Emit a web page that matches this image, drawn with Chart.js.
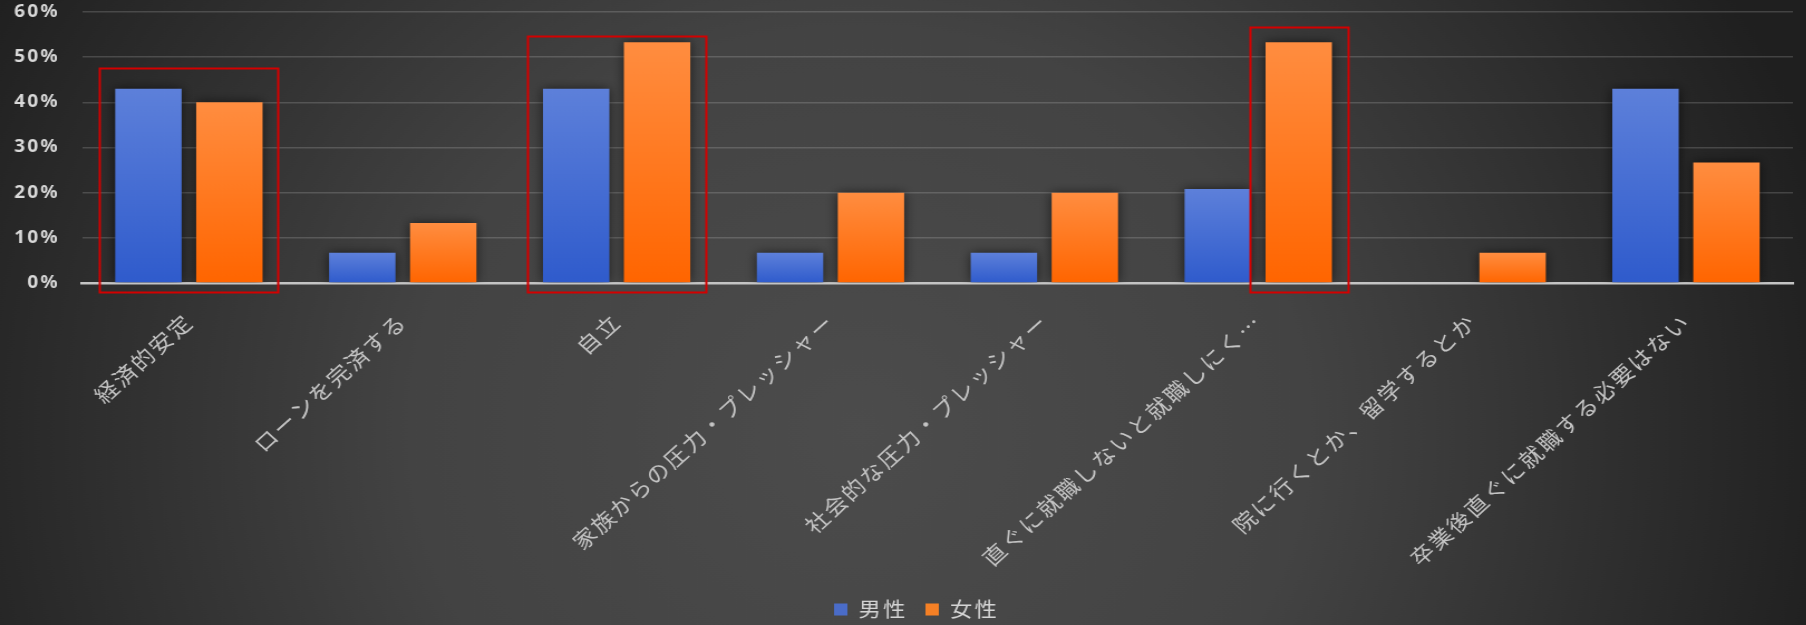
<!DOCTYPE html>
<html>
<head>
<meta charset="utf-8">
<script src="https://cdn.jsdelivr.net/npm/chart.js@4.4.1/dist/chart.umd.min.js"></script>
<style>
  html, body { margin: 0; padding: 0; background: #2a2a2a; overflow: hidden; }
  #wrap { width: 1620px; height: 625px; transform: scaleX(1.115); transform-origin: 0 0; }
</style>
</head>
<body>
<div id="wrap"><canvas id="c" width="1620" height="625"></canvas></div>
<script>
// ---- data ----
const categories = [
  '経済的安定',
  'ローンを完済する',
  '自立',
  '家族からの圧力・プレッシャー',
  '社会的な圧力・プレッシャー',
  '直ぐに就職しないと就職しにく…',
  '院に行くとか、留学するとか',
  '卒業後直ぐに就職する必要はない'
];
const seriesNames = ['男性', '女性'];
const maleValues   = [43, 6.7, 43, 6.7, 6.7, 20.8, 0, 43];
const femaleValues = [40, 13.3, 53.3, 20, 20, 53.3, 6.7, 26.7];
const yTickValues  = [0, 10, 20, 30, 40, 50, 60];

// highlighted groups (category index, datasets inside the box, top value of the box)
const highlightIndex    = [0, 2, 5];
const highlightDatasets = [[0, 1], [0, 1], [1]];
const highlightTop      = [47.6, 54.6, 56.6];

// ---- styling ----
const FONT = "'Noto Sans CJK JP', 'Noto Sans', sans-serif";
const blueTop = '#5d80da', blueBottom = '#2f5bcc', blueLegend = '#4a6cc8';
const orangeTop = '#ff8d40', orangeBottom = '#ff6500', orangeLegend = '#f58025';
const PLOT_BOTTOM = 283;
const BOTTOM_PAD = -4.5;
const SPACING = '2px';

function barGradient(topC, bottomC) {
  return (c) => {
    const chart = c.chart;
    if (!chart.chartArea || c.raw == null) return bottomC;
    const y = chart.scales.y;
    const yTop = y.getPixelForValue(c.raw);
    const yBot = y.getPixelForValue(0);
    if (Math.abs(yBot - yTop) < 1) return bottomC;
    const g = chart.ctx.createLinearGradient(0, yTop, 0, yBot);
    g.addColorStop(0, topC);
    g.addColorStop(1, bottomC);
    return g;
  };
}

const bgPlugin = {
  id: 'bg',
  beforeUpdate(chart) { chart.ctx.letterSpacing = SPACING; },
  afterLayout(chart) {
    if (chart.legend) { chart.legend.left += 18; chart.legend.right += 18; }
  },
  beforeDraw(chart) {
    const ctx = chart.ctx;
    ctx.letterSpacing = SPACING;
    ctx.save();
    const g = ctx.createRadialGradient(771, 430, 0, 771, 430, 900);
    g.addColorStop(0, '#4c4c4c');
    g.addColorStop(0.45, '#434343');
    g.addColorStop(1, '#1f1f1f');
    ctx.fillStyle = g;
    ctx.fillRect(0, 0, chart.width, chart.height);
    ctx.restore();
  },
  beforeDatasetsDraw(chart) {
    const ctx = chart.ctx;
    ctx.save();
    ctx.shadowColor = 'rgba(0,0,0,0.6)';
    ctx.shadowBlur = 10;
  },
  afterDatasetsDraw(chart) {
    chart.ctx.restore();
  },
  afterDraw(chart) {
    const ctx = chart.ctx;
    const y = chart.scales.y;
    ctx.save();
    ctx.strokeStyle = '#d40000';
    ctx.lineWidth = 2;
    highlightIndex.forEach((idx, k) => {
      const els = highlightDatasets[k].map(d => chart.getDatasetMeta(d).data[idx]);
      const left = Math.min(...els.map(e => e.x - e.width / 2)) - 14;
      const right = Math.max(...els.map(e => e.x + e.width / 2)) + 14;
      const top = y.getPixelForValue(highlightTop[k]);
      const bottom = y.getPixelForValue(0) + 9;
      ctx.strokeRect(Math.round(left) + 0.5, Math.round(top) + 0.5, Math.round(right - left), Math.round(bottom - top));
    });
    ctx.restore();
  }
};

new Chart(document.getElementById('c'), {
  type: 'bar',
  data: {
    labels: categories,
    datasets: [
      { label: seriesNames[0], data: maleValues, backgroundColor: barGradient(blueTop, blueBottom),
        categoryPercentage: 0.757, barPercentage: 0.82, borderWidth: 0 },
      { label: seriesNames[1], data: femaleValues, backgroundColor: barGradient(orangeTop, orangeBottom),
        categoryPercentage: 0.757, barPercentage: 0.82, borderWidth: 0 }
    ]
  },
  options: {
    responsive: false,
    devicePixelRatio: 1,
    animation: false,
    layout: { padding: { top: 12, right: 12, left: 0, bottom: BOTTOM_PAD } },
    plugins: {
      tooltip: { enabled: false },
      legend: {
        position: 'bottom',
        labels: {
          color: '#d4d4d4',
          boxWidth: 12,
          boxHeight: 12,
          padding: 16,
          font: { family: FONT, size: 20 },
          generateLabels: (chart) => chart.data.datasets.map((ds, i) => ({
            text: ds.label,
            fillStyle: i === 0 ? blueLegend : orangeLegend,
            strokeStyle: i === 0 ? blueLegend : orangeLegend,
            lineWidth: 0,
            hidden: !chart.isDatasetVisible(i),
            datasetIndex: i,
            fontColor: '#d4d4d4'
          }))
        }
      }
    },
    scales: {
      x: {
        grid: { display: false },
        border: { display: true, color: '#c4c4c4', width: 2.5 },
        ticks: {
          color: '#c4c4c4',
          font: { family: FONT, size: 21 },
          minRotation: 45,
          maxRotation: 45,
          autoSkip: false,
          padding: 18
        },
        afterFit: (s) => {
          const legH = s.chart.legend ? s.chart.legend.height : 0;
          s.height = s.chart.height - BOTTOM_PAD - legH - PLOT_BOTTOM;
        }
      },
      y: {
        min: 0,
        max: 60,
        afterBuildTicks: (s) => { s.ticks = yTickValues.map(v => ({ value: v })); },
        grid: { color: 'rgba(255,255,255,0.16)', lineWidth: 1.5, drawTicks: false },
        border: { display: false },
        ticks: {
          color: '#d9d9d9',
          font: { family: "'Noto Sans', sans-serif", size: 17, weight: 'bold' },
          padding: 20,
          callback: (v) => v + '%'
        },
        afterFit: (s) => { s.width = 73.5; s.paddingTop = 0; s.paddingBottom = 0; }
      }
    }
  },
  plugins: [bgPlugin]
});
</script>
</body>
</html>
